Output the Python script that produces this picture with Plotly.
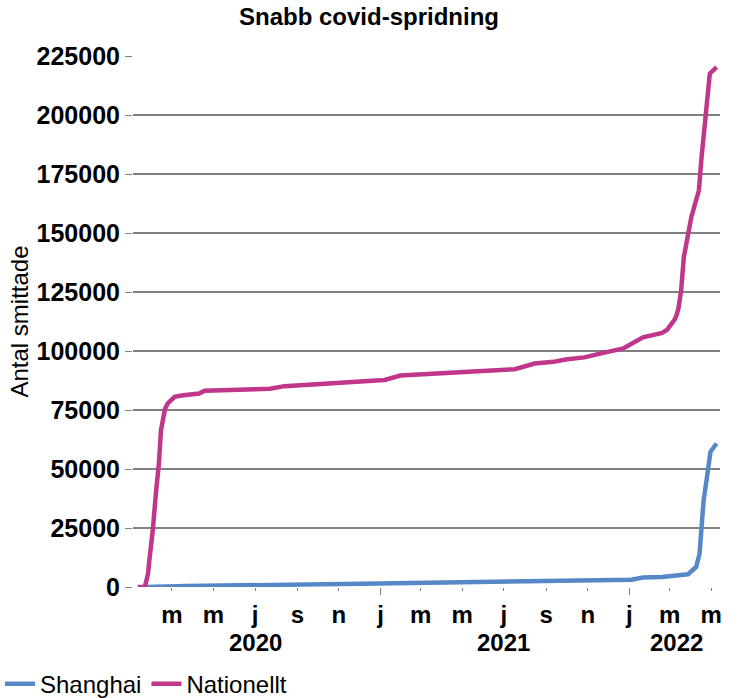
import plotly.graph_objects as go

# ---- data ----
nat_dates = ["2020-01-11", "2020-01-20", "2020-01-22", "2020-01-26", "2020-01-28",
             "2020-02-02", "2020-02-07", "2020-02-11", "2020-02-14", "2020-02-17",
             "2020-02-20", "2020-02-24", "2020-02-28", "2020-03-05", "2020-03-15",
             "2020-04-10", "2020-04-18", "2020-05-10", "2020-06-17", "2020-07-23",
             "2020-08-13", "2020-11-06", "2021-01-07", "2021-01-30", "2021-04-23",
             "2021-07-17", "2021-08-15", "2021-09-12", "2021-09-29", "2021-10-27",
             "2021-11-16", "2021-12-23", "2022-01-21", "2022-02-18", "2022-02-25",
             "2022-03-03", "2022-03-08", "2022-03-11", "2022-03-14", "2022-03-18",
             "2022-03-22", "2022-04-02", "2022-04-13", "2022-04-17", "2022-04-23",
             "2022-04-27", "2022-04-29", "2022-05-09"]
nat_vals = [0, 0, 700, 5600, 11300,
            24000, 41000, 52300, 66400, 72000,
            75500, 77800, 79200, 80600, 81100,
            82000, 83200, 83300, 83500, 84000,
            85100, 86400, 87700, 89600, 90800,
            92300, 94700, 95400, 96400, 97300,
            98700, 101100, 105800, 107700, 108900,
            111000, 113100, 115000, 118000, 125700,
            139900, 156800, 168100, 182200, 202000,
            214700, 217500, 220300]

sh_dates = ["2020-01-22", "2020-03-23", "2020-12-04", "2021-04-23", "2022-01-04",
            "2022-01-21", "2022-02-18", "2022-03-28", "2022-04-09", "2022-04-14",
            "2022-04-16", "2022-04-20", "2022-04-25", "2022-04-30", "2022-05-09"]
sh_vals = [0, 400, 1400, 2000, 3100,
           4000, 4200, 5400, 8500, 14100,
           22600, 36800, 46700, 57300, 60800]

month_ticks = ["2020-03-01", "2020-05-01", "2020-07-01", "2020-09-01", "2020-11-01",
               "2021-01-01", "2021-03-01", "2021-05-01", "2021-07-01", "2021-09-01",
               "2021-11-01", "2022-01-01", "2022-03-01", "2022-05-01"]
month_labels = ["m", "m", "j", "s", "n", "j", "m", "m", "j", "s", "n", "j", "m", "m"]
year_ticks = ["2021-01-01", "2022-01-01"]
year_labels = ["2020", "2021", "2022"]
year_label_pos = ["2020-07-01", "2021-07-01", "2022-03-11"]

title_text = "Snabb covid-spridning"
y_title = "Antal smittade"
x_range = ["2020-01-04", "2022-05-14"]

# ---- styling ----
FONT = "Liberation Sans, Arial, sans-serif"
BLUE = "#5688C8"
MAGENTA = "#C0368A"
GRID = "#808080"

fig = go.Figure()
fig.add_trace(go.Scatter(x=sh_dates, y=sh_vals, mode="lines", name="Shanghai",
                         line=dict(color=BLUE, width=4.5)))
fig.add_trace(go.Scatter(x=nat_dates, y=nat_vals, mode="lines", name="Nationellt",
                         line=dict(color=MAGENTA, width=4.5)))
# invisible helper trace so the overlay axis (longer year ticks) is drawn
fig.add_trace(go.Scatter(x=sh_dates, y=sh_vals, mode="lines", xaxis="x2",
                         line=dict(color="rgba(0,0,0,0)", width=0),
                         showlegend=False, hoverinfo="skip"))

for lbl, pos in zip(year_labels, year_label_pos):
    fig.add_annotation(x=pos, y=-0.104, xref="x", yref="paper", text=lbl,
                       showarrow=False, yanchor="middle", xanchor="center",
                       font=dict(family=FONT, size=24, color="black", weight="bold"))

fig.update_layout(
    width=738, height=698,
    margin=dict(l=133, r=18, t=56, b=111, autoexpand=False),
    paper_bgcolor="white", plot_bgcolor="white",
    font=dict(family=FONT, color="black"),
    title=dict(text=title_text, x=0.5, xanchor="center", y=0.9756, yanchor="middle",
               yref="container",
               font=dict(family=FONT, size=24, color="black", weight="bold")),
    xaxis=dict(type="date", range=x_range, tickmode="array",
               tickvals=month_ticks, ticktext=month_labels,
               ticks="outside", ticklen=3, tickwidth=1, tickcolor=GRID,
               ticklabelstandoff=3,
               showgrid=False, zeroline=False, showline=False,
               tickfont=dict(family=FONT, size=24, color="black", weight="bold")),
    xaxis2=dict(type="date", range=x_range, overlaying="x", side="bottom",
                tickmode="array", tickvals=year_ticks, showticklabels=False,
                ticks="outside", ticklen=7, tickwidth=1, tickcolor=GRID,
                showgrid=False, zeroline=False, showline=False),
    yaxis=dict(range=[0, 225000], tickmode="linear", tick0=0, dtick=25000,
               tickformat="d", showgrid=True, gridcolor=GRID, gridwidth=2,
               zeroline=False, showline=False,
               ticks="outside", ticklen=7, tickwidth=1, tickcolor=GRID,
               tickfont=dict(family=FONT, size=25, color="black", weight="bold"),
               title=dict(text=y_title, standoff=1,
                          font=dict(family=FONT, size=24, color="black"))),
    legend=dict(orientation="h", xref="container", yref="container",
                x=0.0, xanchor="left", y=0.020, yanchor="middle",
                font=dict(family=FONT, size=24, color="black"),
                itemwidth=30, tracegroupgap=0),
    showlegend=True,
)

fig.write_html("out.html", config={"displayModeBar": False},
               post_script="document.body.style.margin='0px';")
